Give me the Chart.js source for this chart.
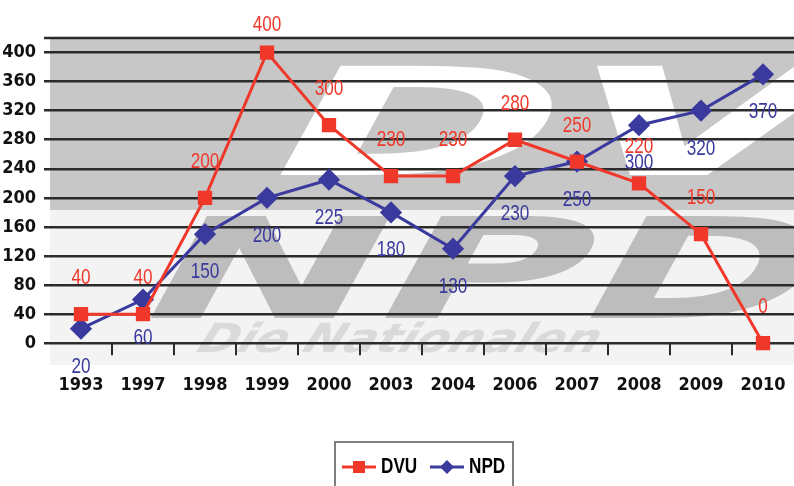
<!DOCTYPE html>
<html>
<head>
<meta charset="utf-8">
<script src="https://cdn.jsdelivr.net/npm/chart.js@4"></script>
<style>
  html, body { margin: 0; padding: 0; background: #fff; }
  #wrap { width: 794px; height: 486px; }
</style>
</head>
<body>
<div id="wrap"><canvas id="chart" width="794" height="486"></canvas></div>
<script>
const jahre = ["1993", "1997", "1998", "1999", "2000", "2003", "2004", "2006", "2007", "2008", "2009", "2010"];
const dvu = [40, 40, 200, 400, 300, 230, 230, 280, 250, 220, 150, 0];
const npd = [20, 60, 150, 200, 225, 180, 130, 230, 250, 300, 320, 370];
const yTicks = [0, 40, 80, 120, 160, 200, 240, 280, 320, 360, 400];

const schmal = "'Liberation Sans Narrow', 'DejaVu Sans Condensed', 'Liberation Sans', sans-serif";
const rot = "#f0382a";
const blau = "#3a3a9e";

// grauer Hintergrund mit Wasserzeichen (DVU / NPD / Die Nationalen)
const hintergrund = {
    id: "hintergrund",
    beforeDraw(chart) {
        const ctx = chart.ctx;
        const a = chart.chartArea;
        ctx.save();
        ctx.fillStyle = "#f3f3f3";
        ctx.fillRect(a.left, a.top, a.right - a.left, a.bottom - a.top);
        ctx.fillStyle = "#c7c7c7";
        ctx.fillRect(a.left, a.top, a.right - a.left, 172);

        ctx.beginPath();
        ctx.rect(a.left, a.top, a.right - a.left, a.bottom - a.top);
        ctx.clip();

        // DVU
        ctx.save();
        ctx.setTransform(2.3, 0, -0.55, 1, 0, 0);
        ctx.font = "bold 150px 'DejaVu Sans'";
        ctx.fillStyle = "#ffffff";
        ctx.fillText("DVU", 150, 175);
        ctx.restore();

        // NPD
        ctx.save();
        ctx.setTransform(2.0, 0, -0.55, 1, 0, 0);
        ctx.font = "bold 140px 'DejaVu Sans'";
        ctx.fillStyle = "#bdbdbd";
        ctx.fillText("NPD", 150, 318);
        ctx.restore();

        // Die Nationalen
        ctx.save();
        ctx.setTransform(1.2, 0, -0.4, 1, 0, 0);
        ctx.font = "bold italic 40px 'DejaVu Sans'";
        ctx.fillStyle = "#dadada";
        ctx.fillText("Die Nationalen", 280, 352);
        ctx.restore();

        ctx.restore();
    }
};

// obere Linie und Teilstriche unter der Null-Linie
const rahmen = {
    id: "rahmen",
    beforeDatasetsDraw(chart) {
        const ctx = chart.ctx;
        const a = chart.chartArea;
        const x = chart.scales.x;
        const y0 = chart.scales.y.getPixelForValue(0);
        ctx.save();
        ctx.strokeStyle = "#2b2b2b";
        ctx.lineWidth = 2.5;
        ctx.beginPath();
        ctx.moveTo(a.left - 6, a.top);
        ctx.lineTo(a.right, a.top);
        ctx.stroke();
        ctx.lineWidth = 2;
        for (let i = 0; i < jahre.length - 1; i++) {
            const xm = (x.getPixelForValue(i) + x.getPixelForValue(i + 1)) / 2;
            ctx.beginPath();
            ctx.moveTo(xm, y0);
            ctx.lineTo(xm, y0 + 12);
            ctx.stroke();
        }
        ctx.restore();
    }
};

// Werte an den Punkten (schmal gezogen wie im Original)
const werte = {
    id: "werte",
    afterDatasetsDraw(chart) {
        const ctx = chart.ctx;
        ctx.save();
        ctx.font = "22px 'Liberation Sans', sans-serif";
        ctx.textAlign = "center";
        ctx.textBaseline = "middle";
        chart.data.datasets.forEach((ds, i) => {
            const meta = chart.getDatasetMeta(i);
            meta.data.forEach((p, j) => {
                ctx.fillStyle = ds.borderColor;
                let y = i === 0 ? p.y - 36 : p.y + 38;
                if (y < 25) y = 25;
                ctx.save();
                ctx.translate(p.x, y);
                ctx.scale(0.78, 1);
                ctx.fillText(String(ds.data[j]), 0, 0);
                ctx.restore();
            });
        });
        ctx.restore();
    }
};

// Legende mit Linie und Marker im Kasten
const legende = {
    id: "legende",
    afterDraw(chart) {
        const ctx = chart.ctx;
        ctx.save();
        ctx.strokeStyle = "#555";
        ctx.lineWidth = 1.5;
        ctx.strokeRect(335, 442, 178, 60);
        ctx.font = "bold 22px 'Liberation Sans', sans-serif";
        ctx.textBaseline = "middle";
        const yy = 467;
        let x = 342;
        chart.data.datasets.forEach(ds => {
            ctx.strokeStyle = ds.borderColor;
            ctx.fillStyle = ds.borderColor;
            ctx.lineWidth = 3;
            ctx.beginPath();
            ctx.moveTo(x, yy);
            ctx.lineTo(x + 34, yy);
            ctx.stroke();
            const cx = x + 17;
            if (ds.pointStyle === "rect") {
                ctx.fillRect(cx - 6, yy - 6, 12, 12);
            } else {
                ctx.beginPath();
                ctx.moveTo(cx, yy - 7);
                ctx.lineTo(cx + 7, yy);
                ctx.lineTo(cx, yy + 7);
                ctx.lineTo(cx - 7, yy);
                ctx.closePath();
                ctx.fill();
            }
            ctx.fillStyle = "#000";
            ctx.save();
            ctx.translate(x + 39, yy);
            ctx.scale(0.78, 1);
            ctx.fillText(ds.label, 0, 0);
            ctx.restore();
            x += 88;
        });
        ctx.restore();
    }
};

new Chart(document.getElementById("chart"), {
    type: "line",
    data: {
        labels: jahre,
        datasets: [
            {
                label: "DVU", data: dvu, borderColor: rot, backgroundColor: rot,
                borderWidth: 3, pointStyle: "rect", pointRadius: 8, pointHoverRadius: 8, tension: 0
            },
            {
                label: "NPD", data: npd, borderColor: blau, backgroundColor: blau,
                borderWidth: 3, pointStyle: "rectRot", pointRadius: 9, pointHoverRadius: 9, tension: 0
            }
        ]
    },
    options: {
        responsive: false,
        animation: false,
        layout: { autoPadding: false, padding: { top: 38, right: 0, bottom: 0, left: 0 } },
        plugins: {
            legend: { display: false },
            tooltip: { enabled: false }
        },
        scales: {
            x: {
                offset: true,
                grid: { display: false, drawTicks: false },
                border: { display: false },
                ticks: {
                    padding: 10,
                    color: "#111",
                    font: { family: schmal, size: 18, weight: "bold" },
                    maxRotation: 0
                },
                afterFit(scale) {
                    scale.height = 121;
                    scale.paddingLeft = 0;
                    scale.paddingRight = 0;
                }
            },
            y: {
                min: -30,
                max: 420,
                afterBuildTicks(scale) { scale.ticks = yTicks.map(v => ({ value: v })); },
                grid: { color: "#2b2b2b", lineWidth: 2.5, tickLength: 6 },
                border: { display: false },
                ticks: {
                    padding: 8,
                    color: "#111",
                    font: { family: schmal, size: 18, weight: "bold" }
                },
                afterFit(scale) {
                    scale.width = 50;
                    scale.paddingTop = 0;
                    scale.paddingBottom = 0;
                }
            }
        }
    },
    plugins: [hintergrund, rahmen, werte, legende]
});
</script>
</body>
</html>
